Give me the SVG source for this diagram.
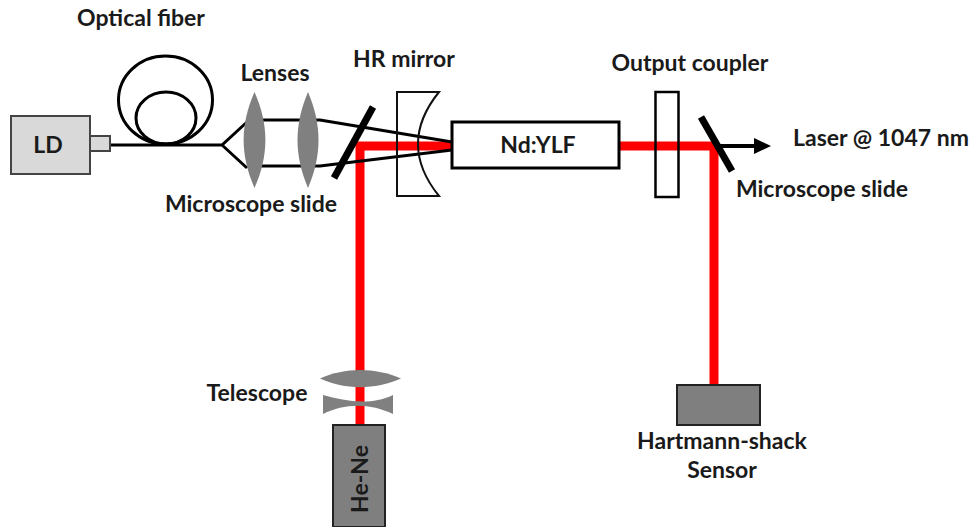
<svg xmlns="http://www.w3.org/2000/svg" width="973" height="527" viewBox="0 0 973 527">
<style>
text{font-family:"Lato","Liberation Sans",sans-serif;font-weight:700;font-size:23px;fill:#1a1a1a;text-anchor:middle}
.k{fill:none;stroke:#000;stroke-width:3}
.r{fill:none;stroke:#f00;stroke-width:9}
.g{fill:#808080}
.s{stroke:#000;stroke-width:7;fill:none}
.b{stroke:#222;stroke-width:2;fill:#7f7f7f}
</style>
<rect width="973" height="527" fill="#fff"/>
<g id="connectors">
<path class="r" d="M452,146H360V425"/>
<path class="r" d="M619,146H714V385"/>
<path class="k" d="M110,145H222L247,122M222,145L247,168"/>
<ellipse class="k" cx="165.500" cy="100" rx="47" ry="44"/>
<ellipse class="k" cx="166" cy="118" rx="30" ry="26"/>
<path class="k" d="M247,120H320L452,142M247,166H320L452,150"/>
<path d="M716,146H756" stroke="#000" stroke-width="4" fill="none"/>
<path d="M754,138L771,146L754,154Z" fill="#000"/>
</g>
<g id="ld"><rect x="11" y="116" width="79" height="58" fill="#d9d9d9" stroke="#444" stroke-width="2"/><rect x="90" y="136" width="20" height="15" fill="#d9d9d9" stroke="#444" stroke-width="2"/><text x="48" y="153">LD</text></g>
<g id="lens1"><path class="g" d="M254.500,92C269,125 269,155 254.500,188C240,155 240,125 254.500,92Z"/></g>
<g id="lens2"><path class="g" d="M308,92C322,125 322,155 308,188C294,155 294,125 308,92Z"/></g>
<g id="slide1"><path class="s" d="M373,107L334,178"/></g>
<g id="hr-mirror"><path d="M397,92H439Q397,144 439,196H397Z" fill="none" stroke="#111" stroke-width="2"/></g>
<g id="ndylf"><rect x="452" y="122" width="167" height="46" fill="#fff" stroke="#000" stroke-width="3"/><text x="538" y="153">Nd:YLF</text></g>
<g id="coupler"><rect x="655.500" y="92" width="23" height="105" fill="none" stroke="#000" stroke-width="2.500"/></g>
<g id="slide2"><path class="s" d="M701,117L732,171"/></g>
<g id="lens3"><path class="g" d="M320,378.500C345,367 375,367 401,378.500C375,390 345,390 320,378.500Z"/></g>
<g id="lens4"><path class="g" d="M323,395C345,401 370,406 393,395V414C370,403 345,403 323,414Z"/></g>
<g id="he-ne"><rect x="333" y="425" width="52" height="102" class="b"/><text transform="translate(368,479) rotate(-90)">He-Ne</text></g>
<g id="sensor"><rect x="677" y="385" width="83" height="40" class="b"/><text x="722" y="449">Hartmann-shack</text><text x="722" y="478">Sensor</text></g>
<g id="labels">
<text x="141" y="26">Optical fiber</text>
<text x="275" y="81">Lenses</text>
<text x="404" y="67">HR mirror</text>
<text x="690" y="71">Output coupler</text>
<text x="881" y="146">Laser @ 1047 nm</text>
<text x="822" y="197">Microscope slide</text>
<text x="251" y="212">Microscope slide</text>
<text x="257" y="401">Telescope</text>
</g>
</svg>
